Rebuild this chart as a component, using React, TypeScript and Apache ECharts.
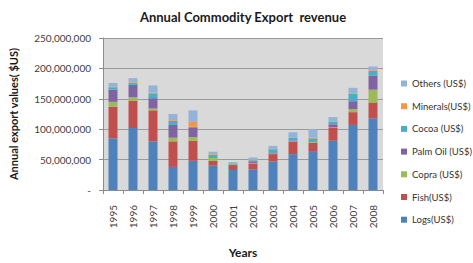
import React, { useEffect, useRef } from "react";
import * as echarts from "echarts";

const years = ["1995","1996","1997","1998","1999","2000","2001","2002","2003","2004","2005","2006","2007","2008"];
const logs     = [85, 102, 80, 38, 48, 40, 33, 34, 47, 59, 64, 81, 107, 118];
const fish     = [52, 45, 51, 42, 33, 8, 8, 9, 12, 20, 14, 21, 21, 26];
const copra    = [8, 6, 3, 6, 6, 5, 1, 1, 1, 1, 1, 1, 5, 21];
const palmOil  = [20, 20, 17, 21, 15, 1, 0.5, 2, 1, 1, 1, 5, 13, 23];
const cocoa    = [4, 3, 8, 7, 2, 4, 1, 3, 6, 5, 5, 4, 12, 8];
const minerals = [1, 1, 1, 1, 8, 1, 0.5, 0.5, 0.5, 1, 1, 1, 1, 1];
const others   = [6, 7, 12, 10, 19, 4, 2, 4, 5, 8, 14, 7, 9, 6];

const seriesNames = ["Logs(US$)", "Fish(US$)", "Copra (US$)", "Palm Oil (US$)", "Cocoa (US$)", "Minerals(US$)", "Others (US$)"];
const seriesData = [logs, fish, copra, palmOil, cocoa, minerals, others];
const seriesColors = ["#4F81BD", "#C0504D", "#9BBB59", "#8064A2", "#4BACC6", "#F79646", "#95B3D7"];

const FONT = "Lato, 'Open Sans', sans-serif";

export default function App() {
  const ref = useRef<HTMLDivElement>(null);
  useEffect(() => {
    if (!ref.current) return;
    const chart = echarts.init(ref.current, null, { renderer: "svg" });
    chart.setOption({
      animation: false,
      backgroundColor: "#ffffff",
      textStyle: { fontFamily: FONT },
      title: {
        text: "Annual Commodity Export  revenue",
        left: 238,
        textAlign: "center",
        top: 5,
        textStyle: { fontFamily: FONT, fontSize: 13, fontWeight: "bold", color: "#1a1a1a" },
      },
      legend: {
        orient: "vertical",
        left: 396,
        top: 72,
        data: [...seriesNames].reverse(),
        icon: "rect",
        itemWidth: 6,
        itemHeight: 6,
        itemGap: 9.7,
        textStyle: { fontFamily: FONT, fontSize: 9.5, fontWeight: "normal", color: "#333333", lineHeight: 13 },
      },
      grid: {
        left: 100,
        right: 90,
        top: 38,
        bottom: 66,
        show: true,
        backgroundColor: "#d9d9d9",
        borderWidth: 0,
      },
      xAxis: {
        type: "category",
        data: years,
        name: "Years",
        nameLocation: "middle",
        nameGap: 56,
        nameTextStyle: { fontFamily: FONT, fontSize: 12, fontWeight: "bold", color: "#1a1a1a" },
        axisLine: { lineStyle: { color: "#8c8c8c" } },
        axisTick: { show: true, length: 4, lineStyle: { color: "#8c8c8c" } },
        axisLabel: { rotate: 90, margin: 15, fontSize: 10, color: "#404040", fontFamily: FONT },
      },
      yAxis: {
        type: "value",
        min: 0,
        max: 250000000,
        interval: 50000000,
        name: "Annual export values( $US)",
        nameLocation: "middle",
        nameGap: 84,
        nameTextStyle: { fontFamily: FONT, fontSize: 11, fontWeight: "bold", color: "#1a1a1a" },
        axisLine: { show: true, lineStyle: { color: "#8c8c8c" } },
        axisTick: { show: true, length: 4, lineStyle: { color: "#8c8c8c" } },
        splitLine: { lineStyle: { color: "#9a9a9a" } },
        axisLabel: {
          margin: 12,
          fontSize: 10,
          color: "#404040",
          fontFamily: FONT,
          formatter: (v: number) => (v === 0 ? "-" : v.toLocaleString("en-US")),
        },
      },
      series: seriesNames.map((name, i) => ({
        name,
        type: "bar",
        stack: "total",
        barWidth: 9,
        itemStyle: { color: seriesColors[i] },
        data: seriesData[i].map((v) => v * 1000000),
      })),
    });
    return () => chart.dispose();
  }, []);
  return <div ref={ref} style={{ position: "fixed", left: 0, top: 0, width: 473, height: 263 }} />;
}
